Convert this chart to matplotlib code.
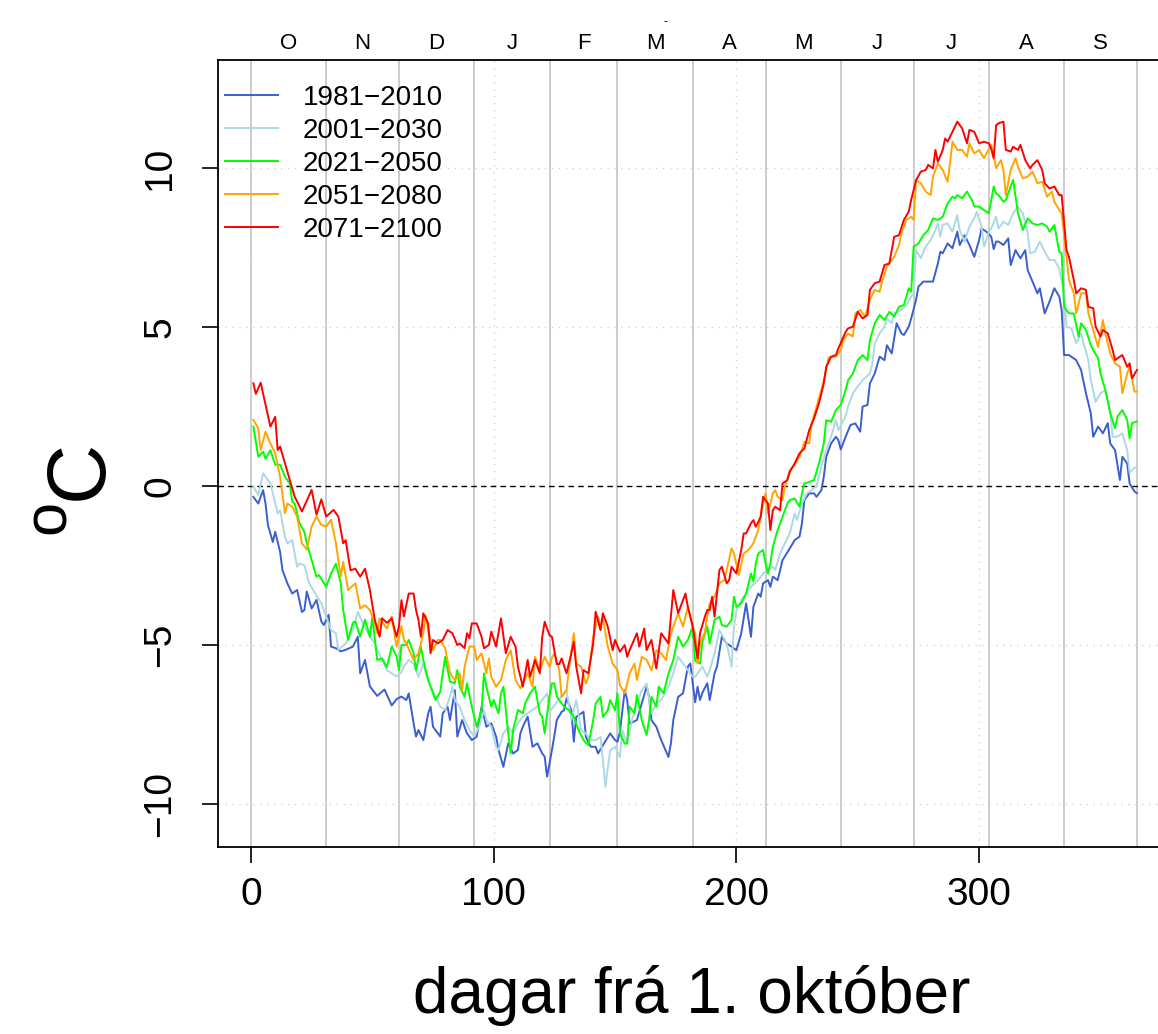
import matplotlib
matplotlib.use('Agg')
import matplotlib.pyplot as plt

obs_1981 = [(1,-0.34),(3,-0.55),(5,-0.13),(6,-0.55),(7,-1.23),(9,-1.76),(10,-1.44),(12,-2.07),(13,-2.65),(15,-3.06),
            (17,-3.38),(19,-3.27),(21,-3.96),(22,-3.90),(23,-3.32),(25,-3.85),(27,-3.58),(29,-4.26),(30,-4.37),(32,-4.05),
            (33,-5.05),(35,-5.10),(37,-5.20),(39,-5.15),(42,-5.05),(44,-4.74),(45,-5.89),(47,-5.47),(49,-6.30),(52,-6.6),
            (55,-6.4),(58,-6.9),(60,-6.7),(62,-6.62),(64,-6.73),(65,-6.52),(67,-7.46),(68,-7.88),(69,-7.67),(71,-7.99),
            (73,-7.15),(74,-6.94),(75,-7.57),(78,-7.88),(79,-7.15),(81,-6.94),(82,-7.36),(84,-6.42),(85,-7.88),(87,-7.36),
            (89,-7.78),(90,-7.88),(91,-7.99),(93,-7.88),(95,-6.94),(97,-7.57),(99,-7.46),(101,-7.88),(102,-8.30),(104,-8.83),
            (106,-8.09),(108,-8.41),(110,-8.30),(111,-7.78),(112,-7.57),(114,-7.25),(116,-8.20),(118,-8.09),(120,-8.41),(121,-8.51),
            (122,-9.14),(124,-8.3),(125,-7.85),(126,-7.36),(128,-7.10),(129,-7.05),(130,-6.68),(132,-7.05),(133,-8.04),(134,-7.26),
            (137,-7.10),(138,-7.89),(140,-8.20),(142,-8.20),(143,-8.41),(145,-8.15),(148,-7.78),(150,-7.99),(151,-8.04),(152,-7.73),
            (154,-6.42),(155,-6.73),(156,-7.47),(159,-7.36),(161,-6.84),(163,-6.31),(164,-6.63),(165,-7.36),(167,-7.57),(169,-7.99),
            (172,-8.52),(173,-8.10),(174,-7.36),(176,-6.63),(178,-6.52),(180,-5.68),(181,-5.58),(183,-6.8),(184,-6.31),(185,-6.73),
            (186,-6.5),(188,-6.2),(189,-6.73),(191,-5.89),(192,-5.68),(194,-4.74),(196,-4.95),(198,-5.05),(200,-5.16),(202,-4.63),
            (204,-3.69),(206,-4.74),(207,-3.80),(209,-3.38),(210,-3.48),(211,-3.06),(213,-2.96),(214,-3.17),(215,-2.85),(217,-2.96),
            (219,-2.33),(222,-1.96),(224,-1.70),(226,-1.59),(227,-1.17),(228,-0.44),(230,-0.23),(232,-0.23),(233,-0.34),(235,-0.13),
            (236,0.29),(237,0.92),(239,1.34),(241,1.55),(242,1.44),(243,1.15),(245,1.55),(247,1.92),(249,1.97),(251,1.71),
            (252,2.50),(254,2.55),(255,3.23),(257,3.54),(259,4.07),(261,3.96),(262,4.43),(264,4.17),(266,5.12),(268,4.80),
            (269,4.75),(271,5.01),(272,5.27),(274,5.85),(275,6.27),(277,6.43),(279,6.43),(281,6.43),(283,7.00),(284,7.37),
            (285,7.32),(287,7.63),(289,7.48),(291,8.00),(292,7.58),(294,7.89),(296,7.58),(298,7.21),(300,7.74),(301,8.10),
            (303,8.00),(305,7.84),(306,7.45),(307,7.69),(308,7.69),(310,7.58),(312,7.79),(313,6.95),(315,7.42),(317,7.16),
            (319,7.42),(320,6.79),(322,6.43),(324,6.06),(325,6.22),(327,5.43),(329,5.80),(331,6.22),(333,5.96),(334,5.54),
            (335,4.12),(337,4.12),(340,3.96),(342,3.65),(344,2.92),(346,2.29),(347,1.55),(349,1.87),(351,1.66),(353,1.98),
            (354,1.34),(356,1.13),(358,0.19),(359,0.92),(361,0.71),(362,0.08),(364,-0.17),(365,-0.22)]

obs_2001 = [(1,-0.02),(3,-0.28),(5,0.40),(8,0.08),(10,-0.55),(11,-0.86),(12,-0.76),(14,-1.59),(15,-1.80),(17,-1.70),
            (19,-2.54),(20,-2.44),(22,-2.49),(24,-3.06),(26,-3.32),(29,-3.69),(31,-4.10),(33,-4.53),(35,-4.63),(36,-5.15),
            (39,-4.95),(42,-4.53),(44,-3.96),(46,-4.30),(49,-4.74),(51,-4.95),(54,-5.47),(56,-5.79),(60,-5.99),(62,-5.85),
            (63,-5.68),(65,-5.47),(67,-5.58),(69,-6.00),(71,-5.58),(72,-5.89),(74,-6.31),(75,-6.42),(78,-6.94),(80,-7.04),
            (82,-6.62),(83,-6.31),(84,-6.73),(86,-6.94),(88,-7.36),(90,-7.67),(92,-7.88),(94,-7.57),(96,-7.04),(97,-7.36),
            (99,-7.57),(101,-8.20),(102,-8.30),(104,-7.78),(106,-7.57),(108,-7.78),(110,-7.46),(112,-7.25),(114,-7.15),(116,-7.04),
            (118,-6.94),(120,-6.73),(122,-6.52),(123,-7.1),(125,-6.9),(127,-6.7),(130,-6.42),(132,-7.36),(134,-6.73),(136,-7.68),
            (138,-7.78),(140,-7.99),(142,-7.99),(144,-7.89),(145,-8.62),(146,-9.46),(148,-8.31),(150,-8.20),(152,-8.52),(153,-7.68),
            (155,-8.10),(157,-7.36),(159,-6.84),(161,-6.42),(163,-6.21),(165,-7.15),(167,-6.84),(169,-6.73),(172,-6.31),(174,-5.89),
            (176,-5.37),(178,-5.58),(180,-5.79),(182,-6.00),(183,-6.00),(184,-5.89),(186,-5.68),(188,-6.00),(189,-5.79),(191,-5.26),
            (193,-4.53),(196,-4.95),(198,-5.68),(199,-4.42),(200,-3.90),(202,-3.59),(204,-3.38),(206,-3.17),(209,-2.96),(211,-2.75),
            (213,-2.64),(215,-2.54),(216,-2.64),(218,-2.12),(220,-1.80),(222,-1.49),(224,-0.86),(225,-1.07),(227,-0.55),(229,-0.23),
            (231,-0.13),(233,0.00),(235,0.61),(237,1.13),(239,1.55),(241,2.07),(242,1.76),(243,1.90),(245,2.20),(246,2.50),
            (248,2.92),(250,3.13),(252,3.33),(255,3.54),(256,3.86),(257,4.49),(259,4.80),(261,5.01),(262,5.27),(264,5.12),
            (265,5.43),(268,5.54),(270,5.69),(272,5.96),(273,6.06),(274,7.42),(276,7.16),(278,7.53),(280,7.74),(282,8.05),
            (283,8.26),(284,7.84),(285,8.21),(287,8.26),(289,8.00),(291,8.52),(292,8.05),(294,7.68),(296,8.16),(298,8.42),
            (299,8.63),(301,8.16),(302,7.53),(304,8.00),(305,8.10),(307,8.47),(308,8.10),(310,8.31),(312,8.21),(314,8.58),
            (316,8.79),(318,8.58),(320,7.95),(321,7.32),(323,7.37),(325,7.69),(327,7.37),(329,7.11),(331,7.11),(333,6.85),
            (335,6.06),(336,5.01),(338,4.96),(340,4.49),(342,4.80),(343,4.49),(345,3.96),(346,3.33),(348,2.65),(350,2.92),
            (352,3.02),(354,2.39),(355,1.55),(357,1.55),(359,1.66),(361,1.13),(362,0.42),(364,0.58),(365,0.58)]

obs_2021 = [(1,1.87),(3,0.92),(5,1.08),(6,0.86),(8,1.13),(10,0.67),(12,0.67),(14,0.29),(16,0.08),(17,-0.49),
            (18,-0.55),(20,-1.17),(22,-1.44),(23,-1.80),(25,-2.33),(27,-2.85),(28,-2.80),(31,-3.17),(33,-2.75),(35,-2.44),
            (37,-3.06),(38,-3.90),(40,-4.84),(42,-4.30),(43,-4.26),(45,-4.74),(47,-4.20),(49,-4.74),(50,-4.10),(52,-5.47),
            (54,-5.42),(56,-5.70),(58,-5.05),(60,-5.36),(61,-5.79),(62,-5.0),(64,-5.00),(65,-4.84),(67,-5.26),(68,-5.79),
            (70,-5.05),(71,-5.47),(73,-6.10),(75,-6.52),(76,-6.73),(78,-6.47),(79,-5.89),(80,-5.37),(82,-6.15),(84,-6.20),
            (85,-5.79),(86,-6.31),(88,-6.62),(89,-6.20),(91,-6.94),(93,-7.57),(95,-7.04),(96,-5.89),(97,-6.31),(99,-6.94),
            (100,-6.73),(102,-7.15),(103,-6.52),(104,-6.31),(106,-7.78),(107,-8.41),(108,-7.67),(110,-7.04),(112,-7.15),(113,-6.83),
            (115,-6.52),(117,-6.31),(119,-7.15),(120,-7.25),(121,-7.78),(123,-6.6),(124,-6.2),(125,-6.21),(126,-6.62),(127,-6.73),
            (129,-6.94),(131,-7.05),(133,-7.26),(135,-7.68),(137,-7.99),(139,-8.15),(141,-7.36),(142,-6.84),(144,-6.63),(145,-7.26),
            (147,-7.05),(148,-6.73),(150,-7.05),(151,-6.52),(152,-7.78),(154,-8.10),(155,-8.10),(156,-6.94),(158,-7.15),(159,-6.57),
            (161,-7.36),(163,-7.83),(164,-7.36),(165,-6.63),(167,-6.94),(168,-6.31),(170,-6.52),(172,-5.89),(174,-5.47),(176,-4.74),
            (178,-5.05),(180,-4.84),(182,-4.42),(183,-5.5),(185,-5.58),(186,-4.9),(188,-4.42),(189,-4.95),(191,-4.21),(193,-4.11),
            (194,-4.37),(196,-4.42),(198,-4.21),(199,-3.48),(200,-3.80),(202,-3.69),(204,-3.38),(206,-2.75),(207,-3.0),(208,-2.43),
            (209,-2.12),(211,-2.01),(212,-2.43),(213,-2.75),(214,-2.43),(215,-1.91),(217,-1.38),(219,-0.97),(221,-0.55),(222,-0.44),
            (224,-0.39),(226,-0.65),(227,-0.23),(228,0.08),(230,0.13),(232,0.19),(234,0.71),(236,1.34),(237,2.07),(239,2.02),
            (241,2.39),(243,2.55),(245,3.02),(246,3.33),(248,3.54),(250,3.96),(252,4.12),(254,3.96),(255,4.59),(257,5.12),
            (259,5.38),(261,5.22),(263,5.48),(265,5.33),(267,5.64),(269,5.69),(271,6.22),(272,6.11),(273,7.53),(275,7.63),
            (277,7.89),(279,8.05),(281,8.42),(283,8.37),(285,8.47),(287,8.89),(289,9.10),(290,9.05),(291,9.15),(293,9.05),
            (295,9.26),(297,9.00),(298,8.79),(300,8.79),(302,8.68),(304,8.58),(306,9.42),(307,9.20),(308,9.15),(310,8.94),
            (311,9.00),(313,9.42),(314,9.63),(316,8.58),(318,8.05),(320,8.42),(322,8.26),(324,8.21),(326,8.26),(328,8.16),
            (329,8.00),(331,8.21),(333,7.37),(334,7.32),(335,5.64),(337,5.43),(339,5.43),(341,4.70),(342,5.12),(344,4.91),
            (346,4.44),(347,4.28),(349,4.02),(350,3.54),(352,3.02),(354,2.29),(356,1.82),(357,2.19),(359,2.39),(361,2.08),
            (362,1.50),(363,1.98),(365,2.03)]

obs_2051 = [(1,2.08),(3,1.82),(4,1.13),(6,1.71),(8,1.34),(10,1.03),(12,0.29),(14,-0.86),(15,-0.55),(17,-0.65),
            (19,-0.96),(21,-1.80),(23,-2.00),(25,-1.27),(27,-0.96),(29,-1.22),(31,-1.27),(33,-1.06),(35,-1.80),(37,-2.85),
            (38,-2.38),(40,-3.27),(43,-3.06),(45,-3.85),(47,-3.75),(49,-3.90),(51,-4.30),(52,-4.63),(53,-4.16),(56,-4.48),
            (58,-4.10),(60,-5.05),(62,-4.4),(63,-4.84),(64,-4.95),(67,-5.47),(69,-5.26),(71,-4.63),(72,-4.06),(73,-4.53),
            (75,-5.16),(77,-4.84),(78,-4.84),(80,-5.10),(82,-5.89),(84,-6.10),(86,-5.89),(87,-6.42),(88,-5.68),(90,-5.05),
            (92,-5.05),(93,-5.47),(95,-5.26),(97,-5.89),(98,-5.42),(99,-6.00),(101,-6.31),(103,-6.10),(105,-5.47),(107,-5.16),
            (109,-6.10),(111,-6.36),(114,-5.89),(116,-6.31),(117,-5.37),(119,-5.79),(121,-5.37),(123,-5.68),(124,-5.4),(125,-5.26),
            (127,-5.79),(128,-6.63),(130,-6.42),(131,-5.79),(133,-4.63),(134,-5.58),(136,-5.68),(138,-6.21),(139,-6.00),(141,-4.74),
            (143,-4.11),(144,-4.48),(145,-4.16),(147,-5.05),(149,-5.58),(151,-5.79),(152,-6.26),(154,-6.52),(156,-5.89),(158,-5.58),
            (159,-6.10),(161,-5.37),(163,-5.47),(165,-5.79),(167,-5.16),(169,-5.26),(171,-5.47),(173,-4.63),(176,-4.00),(178,-4.42),
            (180,-3.80),(182,-4.4),(183,-4.63),(184,-5.58),(185,-4.95),(187,-4.6),(188,-4.1),(189,-3.69),(191,-3.48),(193,-3.06),
            (195,-2.96),(196,-2.64),(198,-1.96),(199,-2.12),(201,-2.80),(203,-2.12),(205,-2.01),(207,-1.80),(209,-1.38),(211,-0.55),
            (212,-0.23),(213,-0.86),(215,-0.23),(216,-0.13),(217,-0.34),(219,-0.44),(220,-0.02),(222,0.50),(224,0.66),(226,0.92),
            (228,1.39),(230,1.34),(231,1.97),(233,2.49),(235,3.02),(237,3.65),(238,4.05),(241,4.07),(243,4.28),(244,4.59),
            (246,4.80),(248,4.70),(249,5.43),(251,5.54),(253,5.33),(255,5.85),(257,6.17),(259,6.11),(260,6.43),(262,6.90),
            (264,7.11),(265,7.21),(267,7.58),(268,7.95),(270,8.37),(272,8.47),(273,8.37),(274,9.62),(276,9.52),(278,9.26),
            (280,9.15),(281,9.73),(283,10.15),(285,9.94),(287,9.57),(288,10.15),(289,10.83),(291,10.57),(293,10.57),(295,10.36),
            (296,10.78),(298,10.46),(300,10.57),(302,10.31),(305,10.73),(307,10.00),(309,10.25),(310,9.94),(311,9.15),(313,9.94),
            (315,10.31),(316,10.04),(318,9.68),(320,9.73),(322,9.89),(324,9.52),(326,9.57),(328,9.10),(330,9.26),(331,8.94),
            (333,8.68),(334,8.58),(336,7.21),(337,6.48),(339,6.06),(340,5.43),(342,6.06),(344,6.06),(345,5.43),(347,4.91),
            (349,4.38),(351,5.22),(352,4.80),(354,4.17),(356,3.86),(358,3.75),(359,2.92),(361,3.54),(362,3.75),(364,2.97),
            (365,2.97)]

obs_2071 = [(1,3.23),(2,2.90),(4,3.25),(8,1.87),(10,2.18),(11,1.13),(12,1.24),(16,0.19),(18,-0.33),(21,-0.80),
            (25,-0.12),(27,-0.90),(29,-0.42),(31,-0.96),(34,-0.75),(36,-0.96),(38,-1.80),(39,-1.70),(41,-2.65),(43,-2.60),
            (45,-2.85),(47,-2.60),(49,-3.27),(51,-4.20),(53,-4.74),(54,-4.16),(56,-4.30),(58,-4.16),(60,-4.74),(61,-4.4),
            (62,-3.59),(63,-4.1),(65,-3.38),(67,-3.38),(68,-3.90),(69,-4.21),(70,-4.74),(71,-4.00),(73,-4.32),(74,-5.26),
            (75,-4.84),(77,-4.95),(79,-4.84),(81,-4.53),(83,-4.63),(85,-5.00),(86,-4.95),(88,-5.10),(89,-4.63),(90,-4.79),
            (91,-4.32),(93,-4.32),(95,-4.74),(96,-5.10),(98,-5.00),(99,-4.58),(101,-5.05),(103,-4.16),(105,-5.26),(107,-4.74),
            (109,-5.05),(110,-5.68),(112,-6.31),(114,-5.47),(115,-6.00),(117,-5.47),(119,-5.89),(120,-4.74),(121,-4.27),(123,-4.69),
            (124,-4.74),(126,-5.6),(127,-5.6),(128,-5.42),(130,-5.89),(132,-5.26),(133,-4.90),(134,-5.68),(136,-6.52),(137,-5.79),
            (139,-5.89),(141,-4.95),(142,-3.95),(144,-4.53),(145,-4.00),(147,-4.42),(149,-5.16),(150,-4.84),(152,-5.21),(154,-5.00),
            (155,-5.37),(156,-5.16),(159,-4.63),(160,-5.05),(162,-4.48),(163,-5.16),(165,-4.84),(167,-5.74),(169,-4.63),(172,-4.95),
            (173,-4.11),(174,-3.27),(176,-4.00),(178,-3.59),(179,-3.38),(180,-3.80),(182,-4.42),(184,-5.42),(185,-4.63),(187,-4.11),
            (188,-3.90),(189,-3.90),(190,-3.48),(191,-4.11),(193,-2.64),(194,-2.54),(196,-3.06),(197,-2.96),(198,-2.54),(200,-2.75),
            (202,-2.01),(203,-1.49),(204,-1.49),(206,-1.17),(207,-1.07),(208,-1.28),(210,-0.97),(211,-0.34),(213,-0.55),(214,-1.38),
            (215,-0.76),(216,-0.65),(218,-0.76),(219,0.08),(221,0.19),(222,0.45),(224,0.71),(226,1.03),(228,1.18),(230,1.76),
            (232,2.13),(234,2.60),(236,3.23),(237,3.75),(239,4.07),(241,4.12),(242,4.33),(243,4.50),(245,4.85),(246,4.96),
            (248,5.01),(250,5.48),(252,5.27),(254,5.38),(255,6.17),(257,6.38),(259,6.43),(261,6.95),(263,7.00),(265,7.84),
            (267,7.89),(269,8.37),(271,8.63),(272,9.00),(274,9.62),(276,9.89),(278,9.94),(279,10.10),(281,9.99),(282,10.57),
            (283,10.20),(285,10.57),(286,10.93),(287,10.83),(289,11.14),(291,11.46),(293,11.25),(295,10.78),(296,11.20),(298,11.14),
            (300,10.78),(302,10.83),(304,10.78),(305,10.60),(306,10.31),(307,11.35),(308,11.41),(310,11.46),(311,10.57),(313,10.52),
            (314,10.67),(316,10.57),(317,10.73),(319,10.25),(321,9.99),(322,10.10),(324,10.25),(326,9.94),(327,9.52),(329,9.36),
            (331,9.42),(333,9.15),(334,9.15),(336,7.42),(337,7.21),(339,6.48),(340,6.06),(342,6.22),(344,6.17),(345,5.64),
            (347,5.59),(348,5.01),(350,4.70),(351,4.91),(353,4.80),(355,4.28),(356,3.96),(358,4.07),(359,4.12),(361,3.75),
            (362,3.86),(363,3.39),(365,3.65)]

periods = ['1981\u22122010', '2001\u22122030', '2021\u22122050', '2051\u22122080', '2071\u22122100']
colours = ['#3A5FCD', '#ADD8E6', '#00FF00', '#FFA500', '#FF0000']
month_starts = [0, 31, 61, 92, 123, 151, 182, 212, 243, 273, 304, 335, 365]
month_letters = ['O', 'N', 'D', 'J', 'F', 'M', 'A', 'M', 'J', 'J', 'A', 'S']
x_ticks = [0, 100, 200, 300]
y_ticks = [-10, -5, 0, 5, 10]

plt.rcParams['font.family'] = ['Liberation Sans', 'DejaVu Sans']

fig = plt.figure(figsize=(11.58, 10.34), dpi=100)
ax = fig.add_axes([0.1883, 0.1809, 0.824, 0.7611])
ax.set_xlim(-13.56, 379.56)
ax.set_ylim(-11.35, 13.4)

# month boundaries and dotted grid
for m in month_starts:
    ax.axvline(m, color='#BEBEBE', lw=1.1, zorder=1)
for x in x_ticks:
    ax.axvline(x, color='#D3D3D3', lw=1.0, ls=(0, (1, 4)), zorder=1)
for y in y_ticks:
    if y != 0:
        ax.axhline(y, color='#D3D3D3', lw=1.0, ls=(0, (1, 4)), zorder=1)
ax.axhline(0, color='black', lw=1.0, ls=(0, (4, 3)), zorder=2)

series = [obs_1981, obs_2001, obs_2021, obs_2051, obs_2071]
for obs, lab, col in zip(series, periods, colours):
    days = [d for d, t in obs]
    temps = [t for d, t in obs]
    ax.plot(days, temps, color=col, lw=1.4, label=lab, zorder=3)

ax.set_xticks(x_ticks)
ax.set_xticklabels([str(x) for x in x_ticks])
ax.set_yticks(y_ticks)
ax.set_yticklabels([str(y).replace('-', '\u2212') for y in y_ticks], rotation=90, va='center')
ax.tick_params(axis='both', labelsize=28, length=11.5, width=1.2, direction='out')
ax.tick_params(axis='x', pad=10)
ax.tick_params(axis='y', pad=17)
for s in ax.spines.values():
    s.set_linewidth(1.3)

# month letters on top
mids = [(a + b) / 2 for a, b in zip(month_starts[:-1], month_starts[1:])]
top = ax.secondary_xaxis('top')
top.set_xticks(mids)
top.set_xticklabels(month_letters)
top.tick_params(length=0, labelsize=16, pad=4.5)
top.spines['top'].set_visible(False)

ax.legend(loc='upper left', bbox_to_anchor=(0.0073, 0.968), borderaxespad=0, borderpad=0,
          frameon=False, fontsize=20, handlelength=1.9, handletextpad=0.9, labelspacing=0.25)

# y label: degree sign drawn as superscript o, as in the original
fig.text(80 / 1158, 1 - 470 / 1034, 'C', rotation=90, fontsize=60, ha='center', va='center')
fig.text(49 / 1158, 1 - 517 / 1034, 'o', rotation=90, fontsize=44, ha='center', va='center')
fig.text(0.597, 1 - 1013 / 1034, 'dagar frá 1. október', fontsize=46, ha='center', va='baseline')
fig.text(665 / 1158, 1 - 22 / 1034, '-', fontsize=9, ha='center', va='center')

fig.savefig('out.png', dpi=100)
